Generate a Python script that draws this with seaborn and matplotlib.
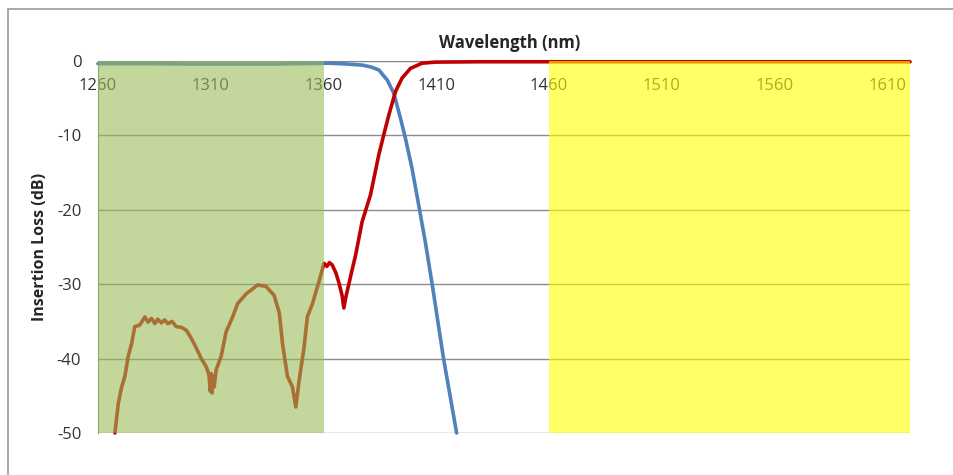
import pandas as pd
import seaborn as sns
import matplotlib.pyplot as plt
from matplotlib.patches import Rectangle

# Pass-band (blue) and reflect-band (red) insertion loss
blue_nm = [1260, 1280, 1300, 1320, 1340, 1362.4, 1370, 1377.1, 1381, 1384.5, 1388.2,
           1391.1, 1394.1, 1396.3, 1399.2, 1402.2, 1405.1, 1408.0, 1413.2, 1419]
blue_db = [-0.35, -0.35, -0.4, -0.4, -0.4, -0.3, -0.4, -0.55, -0.8, -1.2, -2.55,
           -4.3, -7.7, -10.4, -14.4, -19.4, -24.3, -29.7, -40, -50]

red_nm = [1267.5, 1269.0, 1270.5, 1271.9, 1273.4, 1274.9, 1276.3, 1278.5, 1280.8,
          1282.2, 1283.7, 1285.2, 1286.5, 1288.1, 1289.5, 1291.0, 1292.8, 1294.7,
          1297.0, 1299.2, 1301.4, 1303.6, 1305.8, 1308.0, 1309.2, 1309.8, 1310.2,
          1310.6, 1311.0, 1311.5, 1312.4, 1314.6, 1316.8, 1319.7, 1321.9, 1325.7,
          1330.8, 1334.5, 1338.1, 1340.4, 1341.8, 1344.0, 1346.2, 1347.7, 1349.2,
          1351.4, 1352.8, 1355.1, 1358.0, 1360.2, 1361.5, 1362.6, 1363.8, 1365.5,
          1366.8, 1368.2, 1369.0, 1369.9, 1372.1, 1374.2, 1377.1, 1380.8, 1384.5,
          1386.7, 1388.9, 1391.9, 1394.8, 1398.5, 1403.6, 1409.5, 1430, 1500, 1620]
red_db = [-50, -46, -43.8, -42.4, -39.7, -38.0, -35.7, -35.5, -34.4,
          -35.1, -34.6, -35.3, -34.7, -35.2, -34.8, -35.3, -35.0, -35.7,
          -35.8, -36.2, -37.3, -38.6, -40.0, -41.1, -42.2, -44.4, -42.0,
          -44.6, -42.3, -43.8, -41.5, -39.7, -36.4, -34.4, -32.6, -31.3,
          -30.1, -30.3, -31.5, -33.9, -38.0, -42.4, -43.8, -46.5, -42.9,
          -38.4, -34.4, -32.6, -29.6, -27.2, -27.6, -27.1, -27.4, -28.5,
          -29.8, -31.5, -33.2, -31.7, -28.8, -26.1, -21.6, -18.0, -12.6,
          -9.9, -7.3, -4.1, -2.3, -1.0, -0.3, -0.15, -0.1, -0.1, -0.1]

x_ticks = [1260, 1310, 1360, 1410, 1460, 1510, 1560, 1610]
y_ticks = [0, -10, -20, -30, -40, -50]

sns.set_style("white")
plt.rcParams['font.family'] = ['Open Sans', 'DejaVu Sans']

fig = plt.figure(figsize=(9.54, 4.75), dpi=100)
ax = fig.add_axes([98 / 954, 42 / 475, 812 / 954, 372 / 475])

df_blue = pd.DataFrame({"nm": blue_nm, "dB": blue_db})
df_red = pd.DataFrame({"nm": red_nm, "dB": red_db})
sns.lineplot(data=df_blue, x="nm", y="dB", ax=ax, color="#4F81BD", lw=2.6,
             clip_on=False, zorder=3)
sns.lineplot(data=df_red, x="nm", y="dB", ax=ax, color="#C00000", lw=2.6,
             clip_on=False, zorder=3)

ax.set_xlim(1260, 1620)
ax.set_ylim(-50, 0)
ax.set_xticks(x_ticks)
ax.set_yticks(y_ticks)
ax.set_xlabel("")
ax.set_ylabel("Insertion Loss (dB)", fontsize=11.5, fontweight="bold", labelpad=6)

# Excel style: category axis crosses at 0, labels hang below it
for s in ["top", "right"]:
    ax.spines[s].set_visible(False)
ax.spines["bottom"].set_position(("data", 0))
ax.spines["bottom"].set_color("#868686")
ax.spines["left"].set_color("#868686")
ax.grid(axis="y", color="#8c8c8c", lw=1)
ax.tick_params(axis="x", direction="out", length=4, color="#868686", pad=8,
               labelsize=12, labelcolor="#333333")
ax.tick_params(axis="y", direction="out", length=6, color="#868686", pad=6,
               labelsize=12, labelcolor="#333333")
ax.set_yticklabels([str(v) for v in y_ticks])

fig.text(510 / 954, 1 - 43 / 475, "Wavelength (nm)", ha="center", va="center",
         fontsize=12, fontweight="bold")

# translucent bands drawn over everything (lines and tick labels)
top = fig.add_axes(ax.get_position(), facecolor="none")
top.set_xlim(ax.get_xlim())
top.set_ylim(ax.get_ylim())
top.axis("off")
top.axvspan(1260, 1360, color="#9BBB59", alpha=0.6, lw=0)
top.axvspan(1460, 1620, color="#FFFF00", alpha=0.6, lw=0)

fig.patches.append(Rectangle((8 / 954, -0.05), 1.1, 0.981 + 0.05,
                             transform=fig.transFigure, fill=False,
                             edgecolor="#9a9a9a", lw=1.2))

fig.savefig("out.png", dpi=100)
